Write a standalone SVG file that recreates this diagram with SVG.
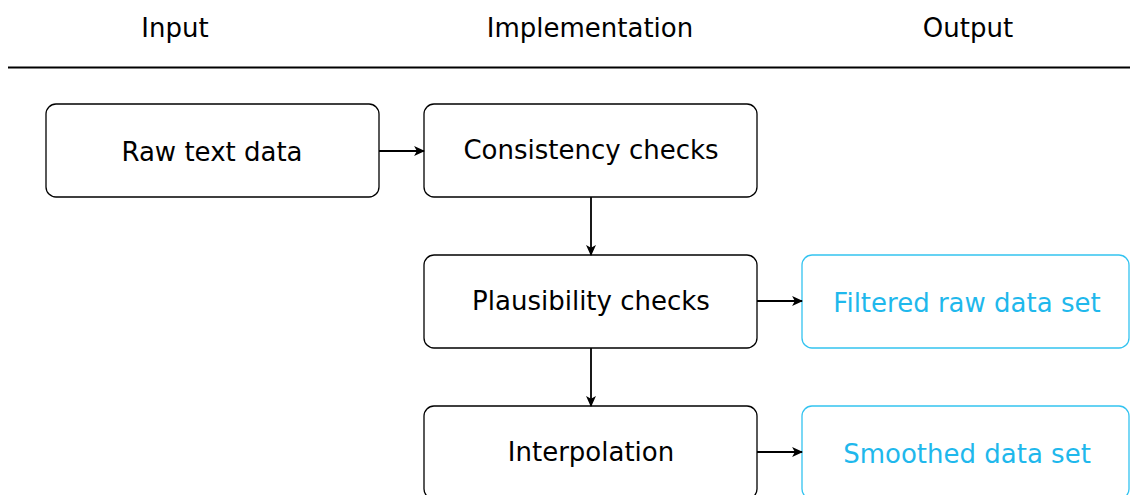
<svg xmlns="http://www.w3.org/2000/svg" width="1130" height="495" viewBox="0 0 1130 495">
  <style>
    text { font-family: "DejaVu Sans", "Liberation Sans", sans-serif; font-size: 26px; text-anchor: middle; dominant-baseline: central; }
    .box { fill: #ffffff; stroke: #000000; stroke-width: 1.3; }
    .out { fill: #ffffff; stroke: #33c3f0; stroke-width: 1.3; }
    .outtxt { fill: #1fb8ec; }
    .edge { stroke: #000000; stroke-width: 1.8; fill: none; marker-end: url(#arrow); }
  </style>
  <defs>
    <marker id="arrow" viewBox="0 0 10 10" refX="9" refY="5" markerWidth="11" markerHeight="11" markerUnits="userSpaceOnUse" orient="auto">
      <path d="M0,0.5 L10,5 L0,9.5 L2.5,5 Z" fill="#000000"/>
    </marker>
  </defs>
  <rect width="1130" height="495" fill="#ffffff"/>

  <!-- column headers -->
  <g id="header">
    <text x="175" y="28">Input</text>
    <text x="590" y="28">Implementation</text>
    <text x="968" y="28">Output</text>
    <line x1="8" y1="67.5" x2="1130" y2="67.5" stroke="#000000" stroke-width="2"/>
  </g>

  <g id="raw-text-data">
    <rect class="box" x="46" y="104" width="333" height="93" rx="10"/>
    <text x="212" y="152">Raw text data</text>
  </g>
  <g id="consistency-checks">
    <rect class="box" x="424" y="104" width="333" height="93" rx="10"/>
    <text x="591" y="150">Consistency checks</text>
  </g>
  <g id="plausibility-checks">
    <rect class="box" x="424" y="255" width="333" height="93" rx="10"/>
    <text x="591" y="301">Plausibility checks</text>
  </g>
  <g id="interpolation">
    <rect class="box" x="424" y="406" width="333" height="93" rx="10"/>
    <text x="591" y="452">Interpolation</text>
  </g>
  <g id="filtered-raw-data-set">
    <rect class="out" x="802" y="255" width="327" height="93" rx="10"/>
    <text class="outtxt" x="967" y="303">Filtered raw data set</text>
  </g>
  <g id="smoothed-data-set">
    <rect class="out" x="802" y="406" width="327" height="93" rx="10"/>
    <text class="outtxt" x="967" y="454">Smoothed data set</text>
  </g>

  <g id="connectors">
    <line class="edge" x1="379" y1="151" x2="424" y2="151"/>
    <line class="edge" x1="591" y1="197" x2="591" y2="255"/>
    <line class="edge" x1="757" y1="301" x2="802" y2="301"/>
    <line class="edge" x1="591" y1="348" x2="591" y2="406"/>
    <line class="edge" x1="757" y1="452" x2="802" y2="452"/>
  </g>
</svg>
